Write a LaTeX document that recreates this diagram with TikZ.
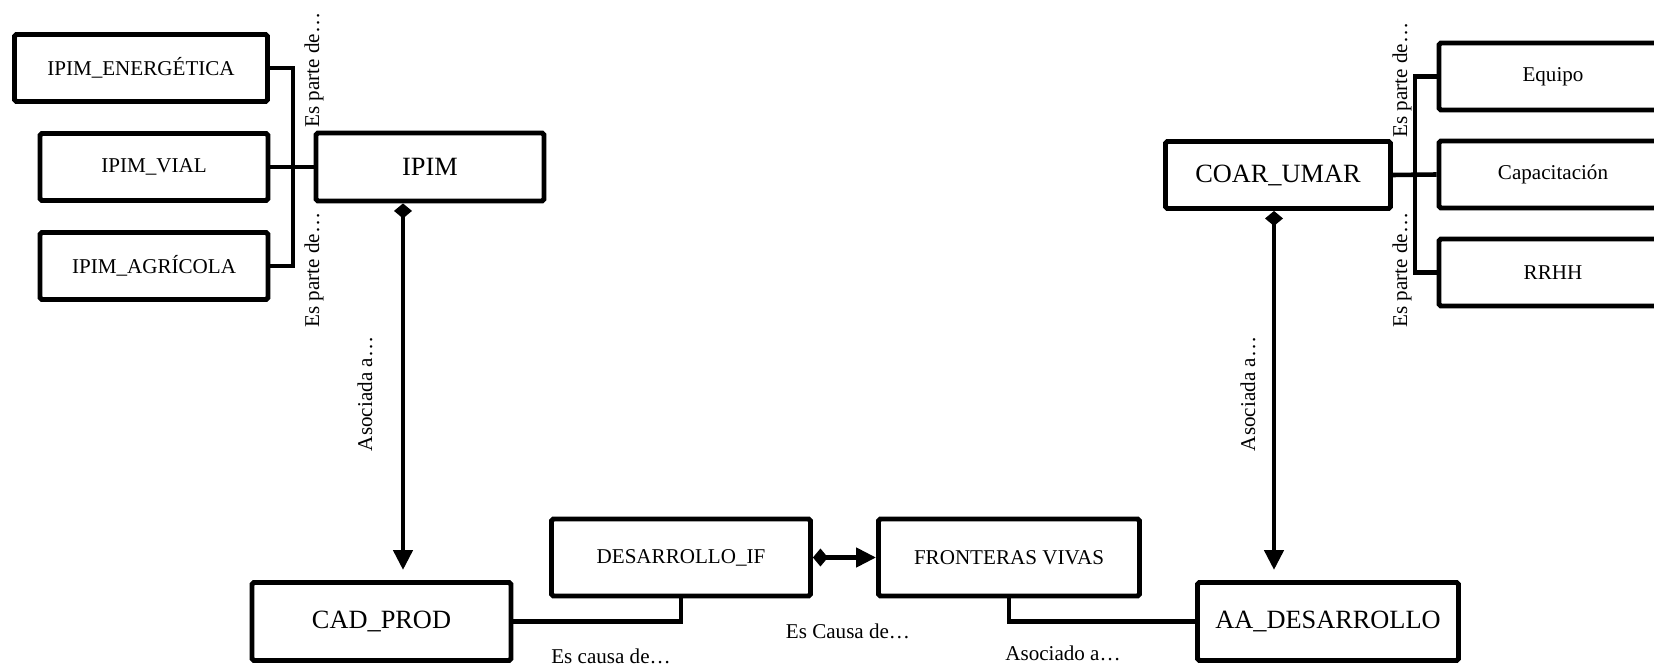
\documentclass[tikz,border=0pt]{standalone}
\usepackage{fontspec}
\setmainfont{Liberation Serif}
\usetikzlibrary{arrows.meta}
\begin{document}
\begin{tikzpicture}[x=0.02cm,y=-0.02cm,
  box/.style={draw, line width=2.8pt, rounded corners=1pt, inner sep=0pt,
    minimum width=4.56cm, minimum height=1.34cm, font=\fontsize{12}{14}\selectfont},
  bigbox/.style={box, minimum width=5.18cm, minimum height=1.56cm, font=\fontsize{15}{18}\selectfont},
  link/.style={line width=2.6pt},
  rel/.style={link, {Diamond[width=0.36cm,length=0.3cm]}-{Triangle[width=0.38cm,length=0.4cm]}},
  lbl/.style={font=\fontsize{12}{14}\selectfont, inner sep=0pt}]
\useasboundingbox (0,0) rectangle (1654,665);
% upper left group
\node[box, minimum width=5.06cm] (energ) at (141,68) {IPIM\_ENERGÉTICA};
\node[box] (vial) at (154,167) {IPIM\_VIAL};
\node[box] (agric) at (154,266) {IPIM\_AGRÍCOLA};
\node[box, minimum height=1.36cm, font=\fontsize{15}{18}\selectfont] (ipim) at (430,167) {IPIM};
\coordinate (brL) at (293,167);
\path[draw,link] (energ.east) -| (brL) |- (agric.east);
\path[draw,link] (vial.east) -- (ipim.west);
\node[lbl, rotate=90] (parteA) at (314,70) {Es parte de…};
\node[lbl, rotate=90] (parteB) at (314,270) {Es parte de…};
% upper right group
\node[box, minimum width=4.5cm, font=\fontsize{15}{18}\selectfont] (coar) at (1278,175) {COAR\_UMAR};
\node[box] (equipo) at (1553,76.5) {Equipo};
\node[box] (capac) at (1553,174.5) {Capacitación};
\node[box] (rrhh) at (1553,272.5) {RRHH};
\coordinate (brR) at (1415,175);
\path[draw,link] (equipo.west) -| (brR) |- (rrhh.west);
\path[draw,link] (coar.east) -- (capac.west);
\node[lbl, rotate=90] (parteC) at (1402,80) {Es parte de…};
\node[lbl, rotate=90] (parteD) at (1402,270) {Es parte de…};
% bottom row
\node[bigbox] (cad) at (381.5,621.5) {CAD\_PROD};
\node[box, minimum width=5.18cm, minimum height=1.54cm] (desif) at (681,557.5) {DESARROLLO\_IF};
\node[box, minimum width=5.22cm, minimum height=1.54cm] (fron) at (1009,557.5) {FRONTERAS VIVAS};
\node[bigbox, minimum width=5.22cm] (aades) at (1328,621.5) {AA\_DESARROLLO};
\path[draw,link] (cad.east) -| (desif.south);
\path[draw,link] (fron.south) |- (aades.west);
\path[draw,rel] (desif.east) -- (fron.west);
\node[lbl] (causaA) at (611,656) {Es causa de…};
\node[lbl] (causaB) at (848,631) {Es Causa de…};
\node[lbl] (asocC) at (1063,653) {Asociado a…};
% vertical links
\coordinate (ipimEnd) at (403,570);
\coordinate (coarEnd) at (1274,570);
\path[draw,rel] (ipim.south -| ipimEnd) -- (ipimEnd);
\path[draw,rel] (coar.south -| coarEnd) -- (coarEnd);
\node[lbl, rotate=90] (asocA) at (365,394) {Asociada a…};
\node[lbl, rotate=90] (asocB) at (1248,394) {Asociada a…};
\end{tikzpicture}
\end{document}
